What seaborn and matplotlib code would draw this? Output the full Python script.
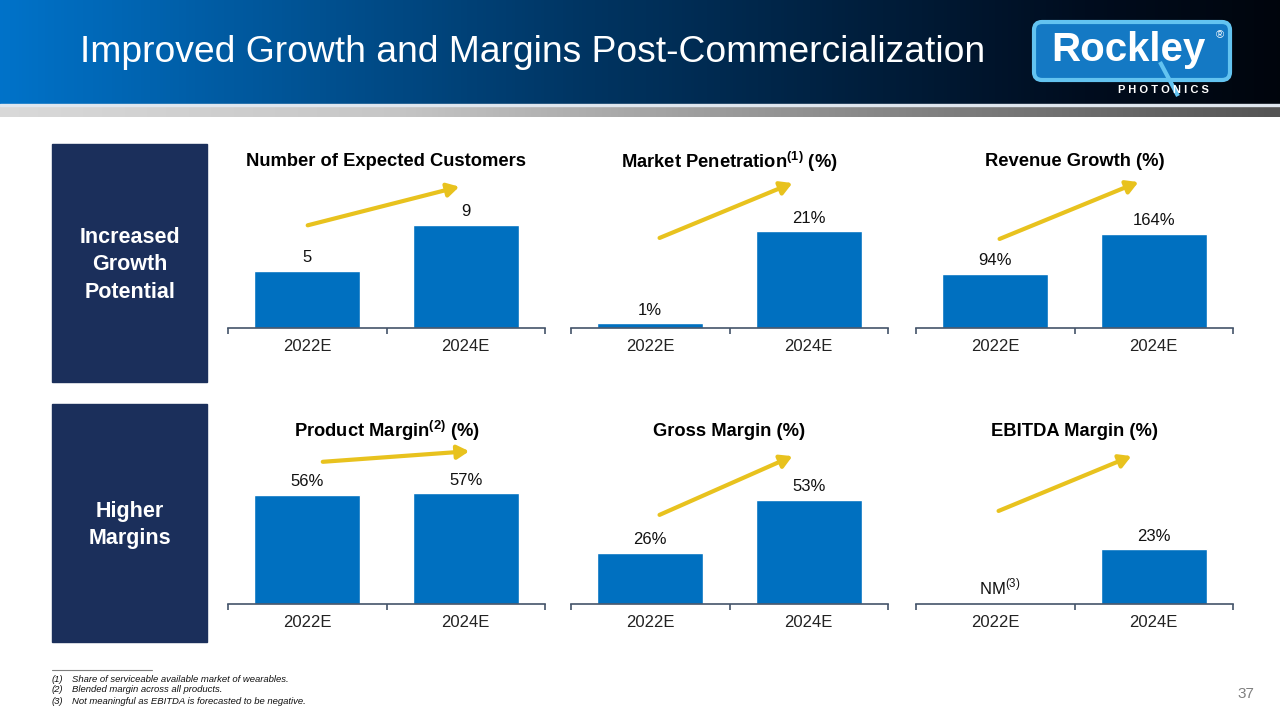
import numpy as np
import pandas as pd
import seaborn as sns
import matplotlib.pyplot as plt
from matplotlib.patches import Rectangle, FancyBboxPatch, FancyArrowPatch

#======================Chart values======================
years = ["2022E", "2024E"]
customers = [5, 9]
market_penetration = [1, 21]
revenue_growth = [94, 164]
product_margin = [56, 57]
gross_margin = [26, 53]
ebitda_margin = [np.nan, 23]

titles = ["Number of Expected Customers",
          r"Market Penetration$^{\mathbf{(1)}}$ (%)",
          "Revenue Growth (%)",
          r"Product Margin$^{\mathbf{(2)}}$ (%)",
          "Gross Margin (%)",
          "EBITDA Margin (%)"]
row_labels = ["Increased\nGrowth\nPotential", "Higher\nMargins"]
footnotes = ["Share of serviceable available market of wearables.",
             "Blended margin across all products.",
             "Not meaningful as EBITDA is forecasted to be negative."]

BLUE = "#0070C0"
NAVY = "#1B2F5B"
GOLD = "#E8C21E"
SPINE = "#44546A"
W, H = 1280, 720

sns.set_theme(style="white")
plt.rcParams['font.family'] = ['Liberation Sans', 'DejaVu Sans']
plt.rcParams['mathtext.fontset'] = 'custom'
plt.rcParams['mathtext.rm'] = 'Liberation Sans'
plt.rcParams['mathtext.bf'] = 'Liberation Sans:bold'


def px(x, y):
    # pixel position (top-left origin) -> figure fraction
    return x / W, 1 - y / H


fig = plt.figure(figsize=(12.8, 7.2), dpi=100)
fig.patch.set_facecolor('white')

# header gradient
bg = fig.add_axes([0, 0, 1, 1], zorder=-10)
bg.set_xlim(0, W)
bg.set_ylim(H, 0)
bg.axis('off')
t = np.linspace(0, 1, 400)
r = np.interp(t, [0, 0.45, 0.85, 1], [0.0, 0.0, 0.0, 0.0])
g = np.interp(t, [0, 0.45, 0.85, 1], [0.45, 0.21, 0.05, 0.02])
b = np.interp(t, [0, 0.45, 0.85, 1], [0.79, 0.39, 0.12, 0.05])
bg.imshow(np.dstack([r, g, b]), extent=[0, W, 104, 0], aspect='auto')
gray = np.interp(t, [0, 0.3, 1], [0.85, 0.78, 0.33])
bg.imshow(np.dstack([gray, gray, gray]), extent=[0, W, 117, 106], aspect='auto')
bg.add_patch(Rectangle((0, 104), W, 2, color='#dfe6ee'))

fig.text(*px(80, 52), "Improved Growth and Margins Post-Commercialization",
         color='white', fontsize=26.8, va='center', ha='left')

# logo
bg.add_patch(FancyBboxPatch((1034, 22), 196, 58, boxstyle="round,pad=0,rounding_size=8",
                            fc='#1479C4', ec='#63C3F0', lw=3))
bg.plot([1160, 1178], [62, 96], color='#63C3F0', lw=3, solid_capstyle='butt')
fig.text(*px(1128, 50), "Rockley", color='white', fontsize=29, fontweight='bold',
         ha='center', va='center')
fig.text(*px(1220, 35), "®", color='white', fontsize=8, ha='center', va='center')
fig.text(*px(1163, 90), "P H O T O N I C S", color='white', fontsize=8,
         fontweight='bold', ha='center', va='center')

# left row boxes
for (y0, y1), lab in zip([(144, 382), (404, 642)], row_labels):
    bg.add_patch(Rectangle((52, y0), 155, y1 - y0, color=NAVY))
    fig.text(*px(130, (y0 + y1) / 2 + 2), lab, color='white', fontsize=15.5,
             fontweight='bold', ha='center', va='center', linespacing=1.42)

# charts
panels = [customers, market_penetration, revenue_growth,
          product_margin, gross_margin, ebitda_margin]
ytops = [12, 30, 240, 71, 70, 58]
lefts = [228, 571, 916]
bottoms = [328, 604]
title_dy = [28, 35]
arrows = [((305, 226), (462, 186)), ((657, 239), (795, 182)), ((997, 240), (1141, 181)),
          ((320, 462), (472, 451)), ((657, 516), (795, 455)), ((996, 512), (1134, 455))]
is_pct = [False, True, True, True, True, True]

for k, vals in enumerate(panels):
    row, col = divmod(k, 3)
    left, bottom = lefts[col], bottoms[row]
    ax = fig.add_axes([left / W, 1 - bottom / H, 317 / W, 138 / H])
    df = pd.DataFrame({"year": years, "value": vals})
    sns.barplot(data=df.dropna(), x="year", y="value", order=years, ax=ax,
                color=BLUE, saturation=1, width=0.67)
    ax.set_xlim(-0.5, 1.5)
    ax.set_ylim(0, ytops[k])
    ax.set_xlabel('')
    ax.set_ylabel('')
    ax.set_yticks([])
    ax.patch.set_alpha(0)
    for s in ['top', 'right', 'left']:
        ax.spines[s].set_visible(False)
    ax.spines['bottom'].set_color(SPINE)
    ax.spines['bottom'].set_linewidth(1.2)
    ax.tick_params(axis='x', which='major', length=0, pad=8, labelsize=12, labelcolor='#222222')
    ax.set_xticks([-0.5, 0.5, 1.5], minor=True)
    ax.tick_params(axis='x', which='minor', bottom=True, direction='out', length=4,
                   width=1.2, color=SPINE)
    for i, v in enumerate(vals):
        if np.isnan(v):
            ax.annotate("NM$^{(3)}$", (i, 0), xytext=(3, 12), textcoords='offset points',
                        ha='center', va='center', fontsize=12, color='#111111')
        else:
            lab = f"{v:.0f}%" if is_pct[k] else f"{v:.0f}"
            ax.annotate(lab, (i, v), xytext=(0, 9.5), textcoords='offset points',
                        ha='center', va='center', fontsize=12, color='#111111')
    ax.text(0.5, 1 + title_dy[row] / 138, titles[k], transform=ax.transAxes,
            ha='center', va='center', fontsize=13.2, fontweight='bold', color='black')
    (x0, y0), (x1, y1) = arrows[k]
    fig.add_artist(FancyArrowPatch(
        px(x0, y0), px(x1, y1), transform=fig.transFigure,
        arrowstyle='-|>,head_length=7,head_width=4', mutation_scale=1, color=GOLD, lw=3))

# footnotes
bg.plot([52, 152], [670, 670], color='#7f7f7f', lw=0.8)
for i, note in enumerate(footnotes):
    y = 679 + 11 * i
    fig.text(*px(52, y), f"({i + 1})", fontsize=6.8, style='italic', va='center', color='#111111')
    fig.text(*px(72, y), note, fontsize=6.8, style='italic', va='center', color='#111111')
fig.text(*px(1246, 694), "37", fontsize=11, color='#7f7f7f', ha='center', va='center')

plt.savefig('out.png', dpi=100)
